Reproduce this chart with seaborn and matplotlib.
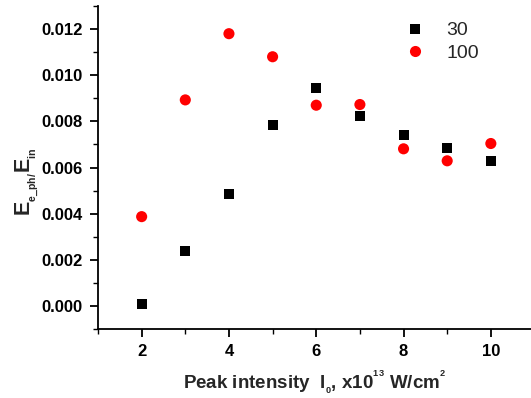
import matplotlib
matplotlib.use("Agg")
import matplotlib.pyplot as plt
from matplotlib.ticker import MultipleLocator, FormatStrFormatter
import pandas as pd
import seaborn as sns

# Peak intensity, x10^13 W/cm^2
intensity = [2, 3, 4, 5, 6, 7, 8, 9, 10]
# E_e_ph / E_in for the two series
ratio_30 = [0.00009, 0.00236, 0.00484, 0.00784, 0.00946, 0.00823, 0.00743, 0.00686, 0.00629]
ratio_100 = [0.00387, 0.00893, 0.0118, 0.0108, 0.0087, 0.00873, 0.00681, 0.00629, 0.00704]
series_names = ["30", "100"]

df = pd.DataFrame({
    "I": intensity * 2,
    "ratio": ratio_30 + ratio_100,
    "series": [series_names[0]] * len(intensity) + [series_names[1]] * len(intensity),
})

sns.set_theme(style="ticks")
plt.rcParams["font.family"] = ["Liberation Sans", "DejaVu Sans"]
plt.rcParams["mathtext.default"] = "regular"

fig = plt.figure(figsize=(5.31, 3.98), dpi=100)
ax = fig.add_axes([98 / 531, 69 / 398, 433 / 531, 323 / 398])

sns.scatterplot(
    data=df, x="I", y="ratio", hue="series", style="series", size="series",
    palette={"30": "black", "100": "#ff0000"},
    markers={"30": "s", "100": "o"},
    sizes={"30": 52, "100": 64},
    linewidth=0, ax=ax, legend=True,
)

ax.set_xlim(1, 10.92)
ax.set_ylim(-0.001, 0.013)
ax.xaxis.set_major_locator(MultipleLocator(2))
ax.xaxis.set_minor_locator(MultipleLocator(1))
ax.yaxis.set_major_locator(MultipleLocator(0.002))
ax.yaxis.set_minor_locator(MultipleLocator(0.001))
ax.yaxis.set_major_formatter(FormatStrFormatter("%.3f"))

for side in ("top", "right"):
    ax.spines[side].set_visible(False)
for side in ("left", "bottom"):
    ax.spines[side].set_linewidth(1.3)
    ax.spines[side].set_color("black")

ax.tick_params(which="major", direction="out", length=6, width=1.3, colors="black",
               labelsize=12, pad=5)
ax.tick_params(which="minor", direction="out", length=3.5, width=1.0, colors="black")
for lab in ax.get_xticklabels() + ax.get_yticklabels():
    lab.set_fontweight("bold")

ax.set_xlabel("Peak intensity  I$_{{}_0}$, x10$^{{}^{13}}$ W/cm$^{{}^2}$", fontsize=13.5,
              fontweight="bold")
ax.xaxis.set_label_coords(0.5, -0.122)
ax.set_ylabel("E$_{{}_{e\\_ph/}}$E$_{{}_{in}}$", fontsize=15.5, fontweight="bold")
ax.yaxis.set_label_coords(-0.135, 0.455)

leg = ax.legend(loc="upper left", bbox_to_anchor=(0.67, 0.975), frameon=False,
                fontsize=14, handletextpad=0.6, labelspacing=0.25,
                borderaxespad=0)

fig.savefig("out.png", dpi=100)
